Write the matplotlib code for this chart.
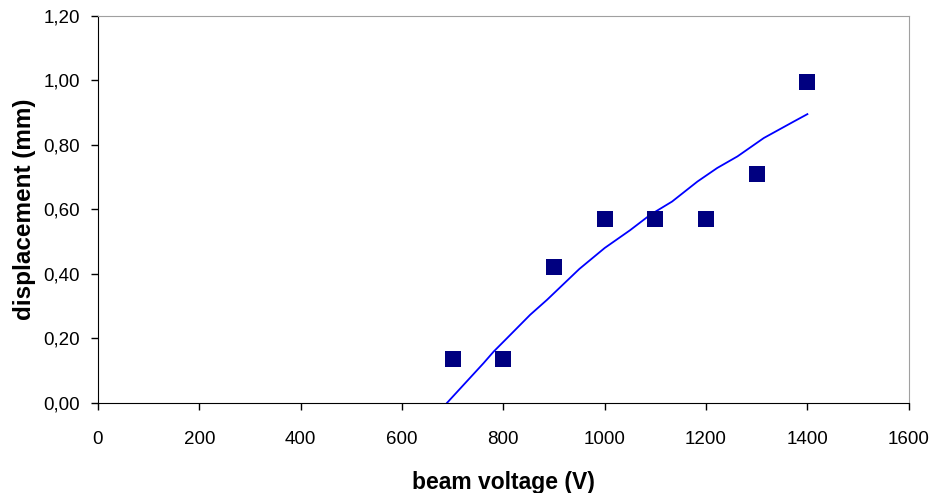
import matplotlib
matplotlib.use("Agg")
import matplotlib.pyplot as plt
from matplotlib.ticker import FuncFormatter

plt.rcParams['font.family'] = ['Liberation Sans', 'DejaVu Sans']

# measured points
voltage = [700, 800, 900, 1000, 1100, 1200, 1300, 1400]
displacement = [0.135, 0.135, 0.42, 0.57, 0.57, 0.57, 0.71, 0.995]

# trend curve
trend_v = [689, 761, 781, 807, 853, 886, 950, 1000, 1050, 1090, 1133, 1183, 1222, 1262, 1314, 1373, 1400]
trend_d = [0.0, 0.123, 0.159, 0.2, 0.273, 0.319, 0.415, 0.48, 0.535, 0.583, 0.624, 0.686, 0.728, 0.764, 0.821, 0.872, 0.895]

x_ticks = [0, 200, 400, 600, 800, 1000, 1200, 1400, 1600]
y_ticks = [0.0, 0.2, 0.4, 0.6, 0.8, 1.0, 1.2]

fig = plt.figure(figsize=(9.33, 4.93), dpi=100)
ax = fig.add_axes([0.105, 0.183, 0.869, 0.785])

ax.plot(trend_v, trend_d, color="#0000ff", lw=1.3, zorder=2)
ax.scatter(voltage, displacement, marker="s", s=120, color="#000080", zorder=3, linewidths=0)

ax.set_xlim(0, 1600)
ax.set_ylim(0, 1.2)
ax.set_xticks(x_ticks)
ax.set_yticks(y_ticks)
ax.yaxis.set_major_formatter(FuncFormatter(lambda v, p: f"{v:.2f}".replace(".", ",")))

ax.tick_params(direction="out", length=5, width=1, labelsize=13.5, colors="black")
ax.tick_params(axis="x", pad=15)
ax.tick_params(axis="y", pad=8)

for s in ["top", "right"]:
    ax.spines[s].set_color("#a0a0a0")
for s in ["left", "bottom"]:
    ax.spines[s].set_color("black")

ax.set_xlabel("beam voltage (V)", fontsize=16.5, fontweight="bold", labelpad=17)
ax.set_ylabel("displacement (mm)", fontsize=17.5, fontweight="bold", labelpad=5)

fig.savefig("out.png", dpi=100)
